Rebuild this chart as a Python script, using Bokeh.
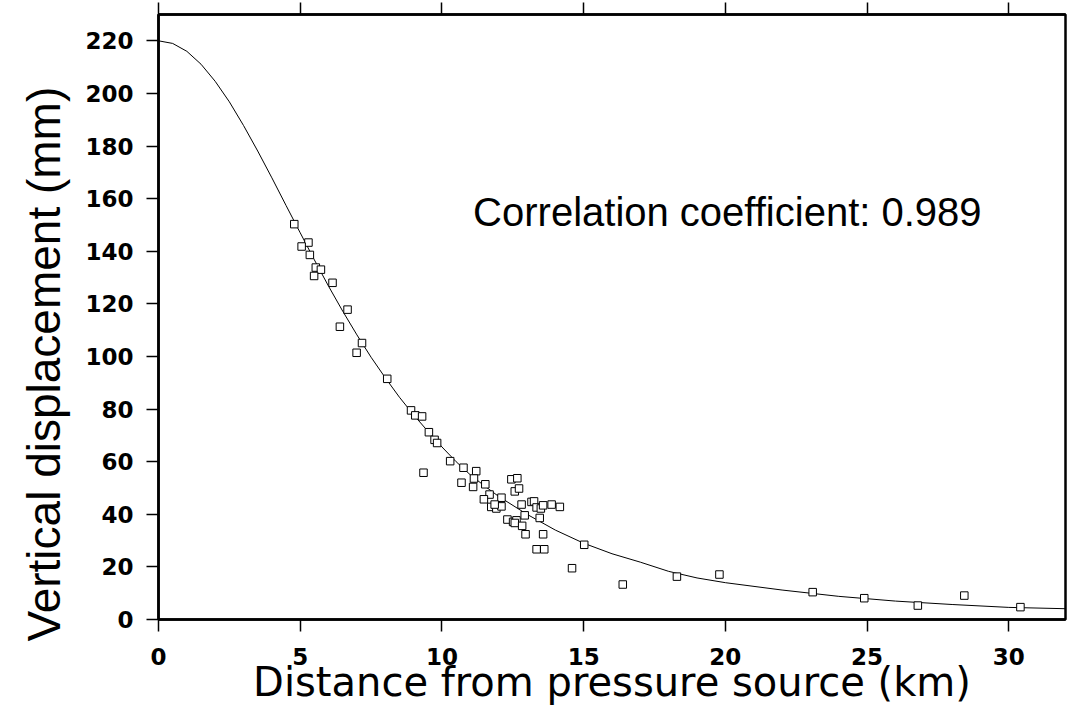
from bokeh.plotting import figure
from bokeh.models import LinearAxis, FixedTicker, Range1d, Label, Title, ColumnDataSource
from bokeh.embed import file_html
from bokeh.resources import INLINE

# ---------------- data ----------------
x_ticks = [0, 5, 10, 15, 20, 25, 30]
y_ticks = [0, 20, 40, 60, 80, 100, 120, 140, 160, 180, 200, 220]

x_title = "Distance from pressure source (km)"
y_title = "Vertical displacement (mm)"
note_text = "Correlation coefficient: 0.989"

# model curve (km, mm)
curve_x = [0, 0.5, 1, 1.5, 2, 2.5, 3, 3.5, 4, 4.5, 5, 5.5, 6, 6.5, 7, 7.5, 8, 8.5,
           9, 9.5, 10, 10.5, 11, 11.5, 12, 13, 14, 15, 16, 17, 18, 19, 20, 22, 24,
           26, 28, 30, 32]
curve_y = [220.0, 219.0, 216.0, 211.1, 204.6, 196.8, 187.8, 178.1, 167.9, 157.4,
           147.0, 136.7, 126.7, 117.2, 108.2, 99.7, 91.9, 84.5, 77.8, 71.6, 65.6,
           60.0, 55.0, 50.8, 46.8, 40.0, 34.0, 29.0, 25.0, 21.8, 18.3, 15.8, 14.0,
           11.2, 8.8, 7.0, 5.7, 4.6, 4.1]

# observed points (km, mm)
obs_x = [4.79, 5.29, 5.05, 5.34, 5.55, 5.73, 5.49, 6.14, 6.67, 6.40, 7.18, 6.99,
         8.07, 8.91, 9.06, 9.30, 9.54, 9.74, 9.83, 9.35, 10.29, 10.76, 11.21,
         10.69, 11.13, 11.10, 11.53, 11.68, 11.48, 12.10, 11.74, 11.92, 12.10,
         11.86, 12.45, 12.66, 12.57, 12.72, 12.81, 13.16, 13.25, 13.34, 13.49,
         13.57, 13.87, 14.16, 12.92, 13.45, 12.31, 12.51, 12.63, 12.57, 12.83,
         12.95, 13.57, 13.34, 13.61, 15.02, 14.59, 16.38, 18.29, 19.79, 23.08,
         24.90, 26.79, 28.43, 30.41]
obs_y = [150.3, 143.3, 141.8, 138.6, 133.8, 133.0, 130.6, 128.0, 117.8, 111.3,
         105.1, 101.4, 91.5, 79.5, 77.6, 77.2, 71.2, 68.3, 67.1, 55.8, 60.2, 57.7,
         56.4, 52.0, 53.6, 50.4, 51.4, 47.5, 45.7, 46.3, 42.8, 42.2, 43.0, 43.7,
         53.3, 53.7, 48.7, 49.8, 43.7, 44.7, 44.9, 42.6, 42.2, 43.4, 43.7, 42.8,
         39.6, 38.6, 38.0, 37.1, 37.7, 36.7, 35.6, 32.4, 32.4, 26.7, 26.7, 28.4,
         19.5, 13.3, 16.3, 17.1, 10.4, 8.1, 5.3, 9.1, 4.7]

# ---------------- figure ----------------
SANS = "DejaVu Sans"
ARIAL = "Liberation Sans"

p = figure(width=1068, height=707,
           x_range=Range1d(0, 32), y_range=Range1d(0, 230),
           output_backend="svg", toolbar_location=None,
           min_border_left=158, min_border_right=3,
           min_border_top=14, min_border_bottom=88,
           x_axis_location=None, y_axis_location=None)

p.background_fill_color = "white"
p.border_fill_color = "white"
p.outline_line_color = "black"
p.outline_line_width = 2.5
p.xgrid.visible = False
p.ygrid.visible = False

curve_src = ColumnDataSource(data=dict(x=curve_x, y=curve_y))
obs_src = ColumnDataSource(data=dict(x=obs_x, y=obs_y))

p.line("x", "y", source=curve_src, line_color="black", line_width=1)
p.scatter("x", "y", source=obs_src, marker="square", size=7.5,
          fill_color="white", line_color="black", line_width=1)


def style_axis(ax, tick_out, label_size, standoff):
    ax.axis_line_color = "black"
    ax.axis_line_width = 2.5
    ax.major_tick_line_color = "black"
    ax.major_tick_line_width = 1.5
    ax.major_tick_in = 0
    ax.major_tick_out = tick_out
    ax.minor_tick_line_color = None
    ax.major_label_text_font = SANS
    ax.major_label_text_font_size = label_size
    ax.major_label_text_font_style = "bold"
    ax.major_label_text_color = "black"
    ax.major_label_standoff = standoff


xaxis = LinearAxis(ticker=FixedTicker(ticks=x_ticks))
style_axis(xaxis, 12, "23px", 16)
xaxis.axis_label = x_title
xaxis.axis_label_text_font = SANS
xaxis.axis_label_text_font_size = "40px"
xaxis.axis_label_text_font_style = "normal"
xaxis.axis_label_text_color = "black"
xaxis.axis_label_standoff = -9
p.add_layout(xaxis, "below")

yaxis = LinearAxis(ticker=FixedTicker(ticks=y_ticks))
style_axis(yaxis, 12, "23px", 13)
p.add_layout(yaxis, "left")

top_axis = LinearAxis(ticker=FixedTicker(ticks=x_ticks))
style_axis(top_axis, 12, "0px", 0)
top_axis.major_label_text_color = None
p.add_layout(top_axis, "above")

# y-axis title, aligned towards the bottom as in the reference
y_head = Title(text=y_title, align="left", offset=-22, standoff=25,
               text_font=ARIAL, text_font_size="46px",
               text_font_style="normal", text_color="black")
p.add_layout(y_head, "left")

note = Label(x=11.1, y=155.0, text=note_text,
             text_font=ARIAL, text_font_size="40px",
             text_color="black", text_align="left", text_baseline="alphabetic")
p.add_layout(note)

open("out.html", "w").write(file_html(p, INLINE))
